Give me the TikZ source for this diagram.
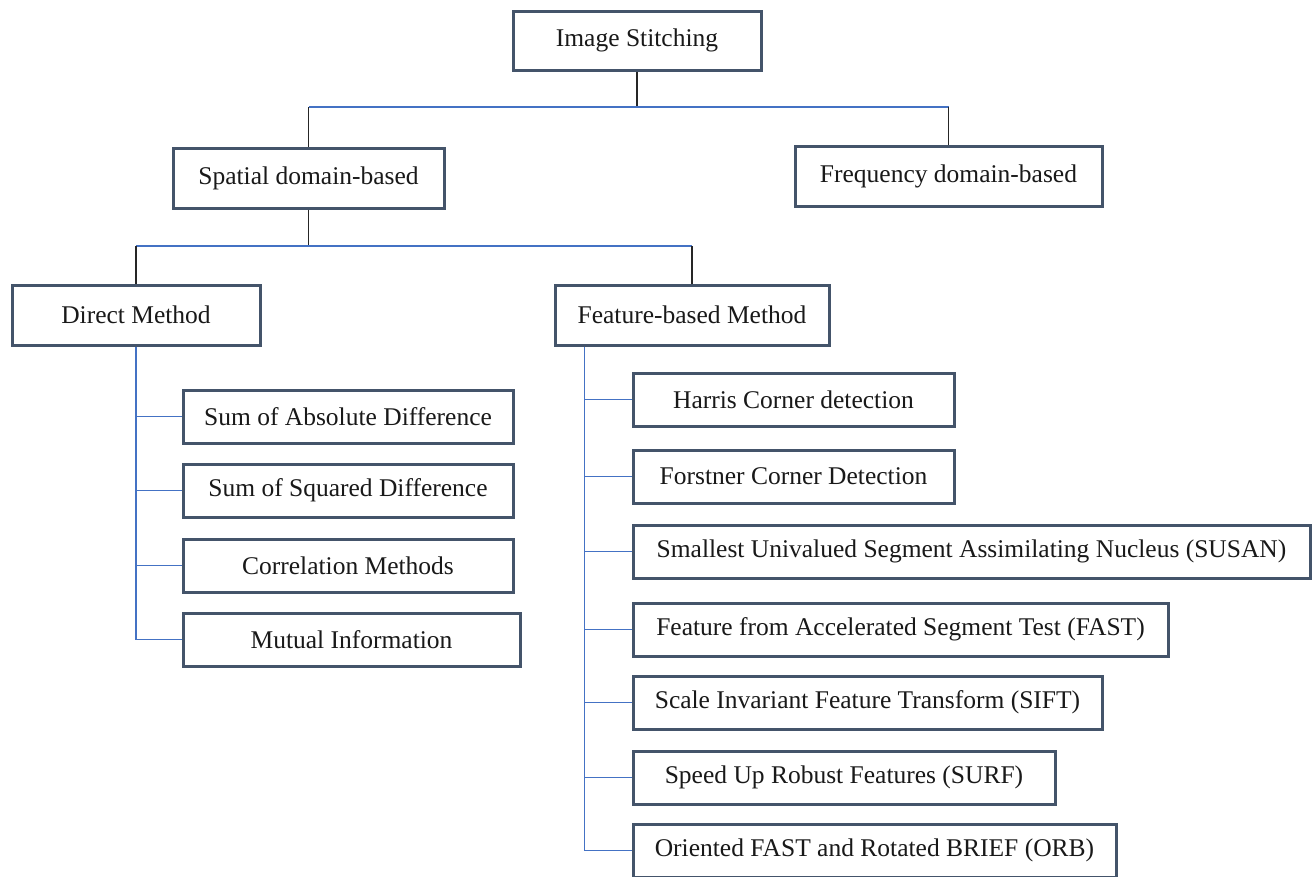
\documentclass[tikz,border=0pt]{standalone}
\usepackage{fontspec}
\setmainfont{Liberation Serif}
\begin{document}
\begin{tikzpicture}[x=1pt,y=-1pt,
  box/.style={draw=boxc, line width=3pt, fill=white, inner sep=0pt, font=\fontsize{25.5}{29}\selectfont, text=black!90},
  blk/.style={draw=black!85, line width=1.4pt},
  blu/.style={draw=linec, line width=1.4pt}]
\definecolor{boxc}{HTML}{44546A}
\definecolor{linec}{HTML}{4472C4}
\useasboundingbox (0,0) rectangle (1312,876);
\coordinate (h1) at (0,107);
\coordinate (h2) at (0,246);
\node[box, minimum width=248, minimum height=59] (img) at (637,40.5) {Image Stitching};
\node[box, minimum width=271, minimum height=60] (spa) at (308.5,178) {Spatial domain-based};
\node[box, minimum width=307, minimum height=60] (fre) at (948.5,176) {Frequency domain-based};
\node[box, minimum width=248, minimum height=60] (dir) at (136,315) {Direct Method};
\node[box, minimum width=274, minimum height=60] (fea) at (692,315) {Feature-based Method};
\node[box, minimum width=330, minimum height=53] (sad) at (348,416.5) {Sum of Absolute Difference};
\node[box, minimum width=330, minimum height=53] (ssd) at (348,490.5) {Sum of Squared Difference};
\node[box, minimum width=330, minimum height=53] (cor) at (348,565.5) {Correlation Methods};
\node[box, minimum width=337, minimum height=53] (mut) at (351.5,639.5) {Mutual Information};
\node[box, minimum width=321, minimum height=53] (har) at (793.5,399.5) {Harris Corner detection};
\node[box, minimum width=321, minimum height=53] (for) at (793.5,476.5) {Forstner Corner Detection};
\node[box, minimum width=677, minimum height=53] (sus) at (971.5,551.5) {Smallest Univalued Segment Assimilating Nucleus (SUSAN)};
\node[box, minimum width=535, minimum height=53] (fas) at (900.5,629.5) {Feature from Accelerated Segment Test (FAST)};
\node[box, minimum width=469, minimum height=53] (sif) at (867.5,702.5) {Scale Invariant Feature Transform (SIFT)};
\node[box, minimum width=422, minimum height=53] (sur) at (844,777.5) {Speed Up Robust Features (SURF)};
\node[box, minimum width=483, minimum height=53] (orb) at (874.5,850.5) {Oriented FAST and Rotated BRIEF (ORB)};
% level 1
\draw[blk] (img.south) -- (img.south |- h1);
\draw[blu] (spa.north |- h1) -- (fre.north |- h1);
\draw[blk] (spa.north |- h1) -- (spa.north);
\draw[blk] (fre.north |- h1) -- (fre.north);
% level 2
\draw[blk] (spa.south) -- (spa.south |- h2);
\draw[blu] (dir.north |- h2) -- (fea.north |- h2);
\draw[blk] (dir.north |- h2) -- (dir.north);
\draw[blk] (fea.north |- h2) -- (fea.north);
% direct list
\draw[blu] (dir.south) -- (dir.south |- mut.west) -- (mut.west);
\foreach \n in {sad,ssd,cor} \draw[blu] (dir.south |- \n.west) -- (\n.west);
% feature list
\coordinate (fx) at ([xshift=31pt]fea.south west);
\draw[blu] (fx) -- (fx |- orb.west) -- (orb.west);
\foreach \n in {har,for,sus,fas,sif,sur} \draw[blu] (fx |- \n.west) -- (\n.west);
\end{tikzpicture}
\end{document}
